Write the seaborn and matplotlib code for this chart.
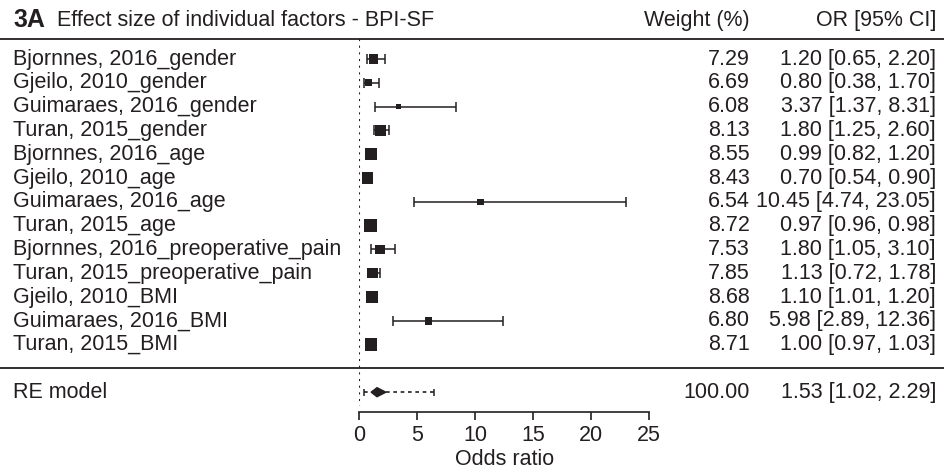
import matplotlib
matplotlib.use("Agg")
import numpy as np
import pandas as pd
import seaborn as sns
import matplotlib.pyplot as plt
from matplotlib.lines import Line2D
from matplotlib.transforms import blended_transform_factory

# ---------------- data ----------------
studies = [
    "Bjornnes, 2016_gender",
    "Gjeilo, 2010_gender",
    "Guimaraes, 2016_gender",
    "Turan, 2015_gender",
    "Bjornnes, 2016_age",
    "Gjeilo, 2010_age",
    "Guimaraes, 2016_age",
    "Turan, 2015_age",
    "Bjornnes, 2016_preoperative_pain",
    "Turan, 2015_preoperative_pain",
    "Gjeilo, 2010_BMI",
    "Guimaraes, 2016_BMI",
    "Turan, 2015_BMI",
]
weights = [7.29, 6.69, 6.08, 8.13, 8.55, 8.43, 6.54, 8.72, 7.53, 7.85, 8.68, 6.80, 8.71]
or_est = [1.20, 0.80, 3.37, 1.80, 0.99, 0.70, 10.45, 0.97, 1.80, 1.13, 1.10, 5.98, 1.00]
ci_low = [0.65, 0.38, 1.37, 1.25, 0.82, 0.54, 4.74, 0.96, 1.05, 0.72, 1.01, 2.89, 0.97]
ci_high = [2.20, 1.70, 8.31, 2.60, 1.20, 0.90, 23.05, 0.98, 3.10, 1.78, 1.20, 12.36, 1.03]

re_label = "RE model"
re_weight = 100.00
re_est, re_low, re_high = 1.53, 1.02, 2.29
pi_low, pi_high = 0.37, 6.45

xticks = [0, 5, 10, 15, 20, 25]
title_tag = "3A"
title_text = "Effect size of individual factors - BPI-SF"
col_weight = "Weight (%)"
col_or = "OR [95% CI]"
xlabel = "Odds ratio"

# ---------------- style ----------------
sns.set_theme(style="white")
plt.rcParams["font.family"] = ["Liberation Sans", "DejaVu Sans"]
ink = "#231f20"
fs = 15.5

W, H = 944, 469
fig = plt.figure(figsize=(W / 100, H / 100), dpi=100)

row_pitch = 23.8
row0_px = 59.0
top_px, axis_px = 39.3, 412.0
x0_px, x25_px = 359.3, 649.0

ax = fig.add_axes([x0_px / W, (H - axis_px) / H, (x25_px - x0_px) / W, (axis_px - top_px) / H])
ax.set_xlim(0, 25)
ylo = (top_px - row0_px) / row_pitch
yhi = (axis_px - row0_px) / row_pitch
ax.set_ylim(yhi, ylo)

rows = np.arange(len(studies))
re_row = len(studies) + 1
sep_row = len(studies)

df = pd.DataFrame({"study": studies, "weight": weights, "or": or_est,
                   "lo": ci_low, "hi": ci_high, "row": rows})

# CI whiskers
ax.errorbar(x=df["or"], y=df["row"],
            xerr=[df["or"] - df["lo"], df["hi"] - df["or"]],
            fmt="none", ecolor=ink, elinewidth=1.1, capsize=3.3, capthick=1.1,
            clip_on=False, zorder=2)

# squares sized by weight
sns.scatterplot(data=df, x="or", y="row", size="weight", sizes=(10, 80),
                marker="s", color=ink, edgecolor="none", linewidth=0,
                legend=False, ax=ax, clip_on=False, zorder=3)

# reference line at 0
ax.vlines(0, ylo, yhi - 0.25, colors=ink, linestyles=(0, (1.0, 2.2)), linewidth=1.5, zorder=1)

# RE model: prediction interval + diamond
ax.hlines(re_row, pi_low, pi_high, colors=ink, linestyles=(0, (2.2, 2.2)), linewidth=1.2)
ax.vlines([pi_low, pi_high], re_row - 0.15, re_row + 0.15, colors=ink, linewidth=1.1)
dh = 0.19
ax.fill([re_low, re_est, re_high, re_est], [re_row, re_row - dh, re_row, re_row + dh],
        color=ink, zorder=4, clip_on=False)

# axis styling
for s in ["top", "left", "right"]:
    ax.spines[s].set_visible(False)
ax.spines["bottom"].set_color(ink)
ax.spines["bottom"].set_linewidth(1.2)
ax.set_xticks(xticks)
ax.set_xticklabels([str(t) for t in xticks])
ax.set_yticks([])
ax.tick_params(axis="x", direction="out", length=5.5, width=1.2, colors=ink,
               labelsize=fs, pad=3.5, bottom=True)
ax.set_xlabel(xlabel, fontsize=fs, color=ink, labelpad=2.5)
ax.set_ylabel("")
ax.patch.set_alpha(0)

# full-width text & rules
trans = blended_transform_factory(fig.transFigure, ax.transData)
for yy in [ylo, sep_row]:
    ax.add_line(Line2D([0, 1], [yy, yy], transform=trans, color=ink, linewidth=1.3, clip_on=False))

xl, xw, xo = 13 / W, 750 / W, 936 / W
for r, s, w, o, lo, hi in zip(rows, studies, weights, or_est, ci_low, ci_high):
    ax.text(xl, r, s, transform=trans, ha="left", va="center", fontsize=fs, color=ink)
    ax.text(xw, r, f"{w:.2f}", transform=trans, ha="right", va="center", fontsize=fs, color=ink)
    ax.text(xo, r, f"{o:.2f} [{lo:.2f}, {hi:.2f}]", transform=trans, ha="right", va="center",
            fontsize=fs, color=ink)

ax.text(xl, re_row, re_label, transform=trans, ha="left", va="center", fontsize=fs, color=ink)
ax.text(xw, re_row, f"{re_weight:.2f}", transform=trans, ha="right", va="center", fontsize=fs, color=ink)
ax.text(xo, re_row, f"{re_est:.2f} [{re_low:.2f}, {re_high:.2f}]", transform=trans,
        ha="right", va="center", fontsize=fs, color=ink)

hdr_row = (20 - row0_px) / row_pitch
ax.text(xl, hdr_row, title_tag, transform=trans, ha="left", va="center", fontsize=18,
        fontweight="bold", color=ink)
ax.text(57 / W, hdr_row, title_text, transform=trans, ha="left", va="center", fontsize=15.5, color=ink)
ax.text(xw, hdr_row, col_weight, transform=trans, ha="right", va="center", fontsize=fs, color=ink)
ax.text(xo, hdr_row, col_or, transform=trans, ha="right", va="center", fontsize=fs, color=ink)

fig.savefig("out.png", dpi=100, facecolor="white")
